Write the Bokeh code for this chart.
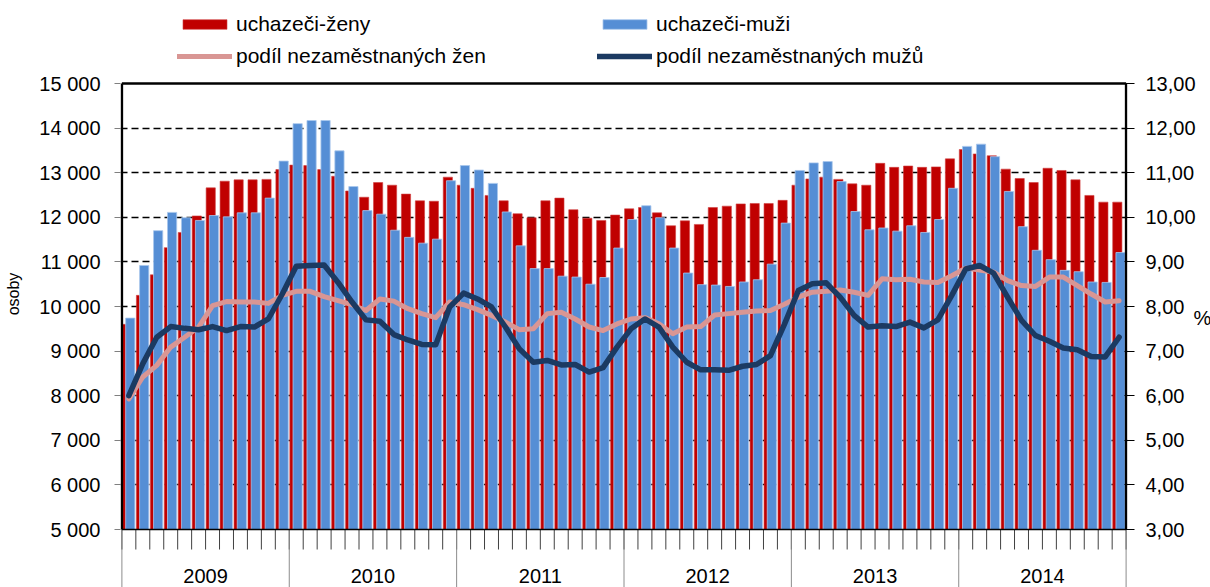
from bokeh.plotting import figure
from bokeh.models import (Range1d, LinearAxis, FixedTicker, Legend, LegendItem,
                          ColumnDataSource)
from bokeh.core.properties import value
from bokeh.embed import file_html
from bokeh.resources import INLINE

years = ["2009", "2010", "2011", "2012", "2013", "2014"]

women = [9600, 10250, 10710, 11320, 11660, 12030, 12660, 12810, 12840, 12840, 12850, 13070,
         13170, 13160, 13070, 12920, 12590, 12450, 12780, 12720, 12520, 12370, 12360, 12900,
         12720, 12650, 12490, 12370, 12080, 11990, 12370, 12430, 12170, 11980, 11930, 12050,
         12190, 12220, 12100, 11810, 11920, 11840, 12220, 12250, 12300, 12310, 12310, 12380,
         12720, 12860, 12900, 12850, 12750, 12720, 13210, 13120, 13150, 13120, 13130, 13310,
         13520, 13420, 13380, 13080, 12870, 12780, 13100, 13050, 12840, 12490, 12340, 12340]

men = [9740, 10920, 11700, 12110, 11990, 11930, 12040, 12010, 12100, 12100, 12430, 13260,
       14100, 14170, 14170, 13490, 12690, 12150, 12070, 11710, 11550, 11420, 11510, 12820,
       13160, 13060, 12760, 12120, 11360, 10850, 10850, 10680, 10660, 10500, 10650, 11310,
       11950, 12260, 11990, 11310, 10750, 10490, 10480, 10450, 10550, 10600, 10950, 11870,
       13050, 13220, 13250, 12800, 12130, 11720, 11760, 11690, 11810, 11660, 11950, 12650,
       13590, 13640, 13360, 12580, 11790, 11260, 11050, 10810, 10780, 10550, 10540, 11210]

pct_women = [5.93, 6.42, 6.68, 7.09, 7.31, 7.54, 8.02, 8.11, 8.10, 8.10, 8.07, 8.25,
             8.34, 8.34, 8.22, 8.13, 8.04, 7.91, 8.17, 8.12, 7.95, 7.84, 7.75, 8.10,
             8.04, 7.93, 7.80, 7.65, 7.48, 7.50, 7.84, 7.87, 7.72, 7.54, 7.46, 7.61,
             7.72, 7.75, 7.61, 7.39, 7.54, 7.55, 7.81, 7.84, 7.87, 7.90, 7.91, 8.05,
             8.21, 8.32, 8.34, 8.37, 8.32, 8.25, 8.62, 8.60, 8.61, 8.55, 8.54, 8.69,
             8.86, 8.82, 8.77, 8.58, 8.47, 8.45, 8.66, 8.66, 8.47, 8.28, 8.10, 8.13]

pct_men = [6.00, 6.72, 7.31, 7.55, 7.51, 7.48, 7.55, 7.46, 7.55, 7.54, 7.72, 8.28,
           8.90, 8.92, 8.93, 8.54, 8.10, 7.70, 7.67, 7.37, 7.25, 7.15, 7.14, 7.99,
           8.30, 8.17, 7.99, 7.54, 7.05, 6.75, 6.79, 6.69, 6.70, 6.53, 6.63, 7.09,
           7.50, 7.72, 7.54, 7.09, 6.75, 6.58, 6.58, 6.57, 6.66, 6.70, 6.90, 7.60,
           8.36, 8.51, 8.53, 8.21, 7.80, 7.54, 7.57, 7.55, 7.65, 7.52, 7.70, 8.25,
           8.84, 8.92, 8.75, 8.21, 7.69, 7.35, 7.22, 7.07, 7.03, 6.88, 6.87, 7.31]

left_ticks = list(range(5000, 15001, 1000))
right_ticks = list(range(3, 14))

FONT = "Liberation Sans"
RED = "#C00000"
BLUE = "#558ED5"
PINK = "#D99694"
DARK = "#1B3A62"

n = len(women)
idx = list(range(n))
Y_LO, Y_HI = 5000, 15000
P_LO, P_HI = 3, 13

# ---- layout (pixels) ----
W, H = 1210, 587
BOX_TOP, BOX_BOTTOM = 83, 529          # plot box top/bottom on the page
FRAME_LEFT = 120
FRAME_W = 1007
X_PAD = 0.1
ppu = (BOX_BOTTOM - BOX_TOP) / (Y_HI - Y_LO)      # pixels per person
y_min = Y_LO - (H - BOX_BOTTOM) / ppu
y_max = Y_HI + BOX_TOP / ppu
scale = (P_HI - P_LO) / (Y_HI - Y_LO)
p_min = P_LO + (y_min - Y_LO) * scale
p_max = P_LO + (y_max - Y_LO) * scale

src = ColumnDataSource(dict(
    xr=[i + 0.37 for i in idx],
    xb=[i + 0.60 for i in idx],
    xc=[i + 0.5 for i in idx],
    women=women, men=men, pw=pct_women, pm=pct_men,
))

p = figure(frame_width=FRAME_W, frame_height=H, title=None,
           x_range=Range1d(-X_PAD, n + X_PAD), y_range=Range1d(y_min, y_max),
           output_backend="svg", toolbar_location=None, x_axis_location=None,
           min_border_left=FRAME_LEFT, min_border_right=W - FRAME_LEFT - FRAME_W,
           min_border_top=0, min_border_bottom=0)
p.extra_y_ranges = {"pct": Range1d(p_min, p_max)}
p.outline_line_color = None
p.background_fill_color = "white"
p.border_fill_color = "white"

# grid
p.xgrid.visible = False
p.ygrid.ticker = FixedTicker(ticks=left_ticks[1:-1])
p.ygrid.grid_line_color = "black"
p.ygrid.grid_line_width = 1.3
p.ygrid.grid_line_dash = "7 4"

# left axis
ya = p.yaxis[0]
ya.ticker = FixedTicker(ticks=left_ticks)
ya.major_label_overrides = {t: f"{t // 1000} 000" for t in left_ticks}
ya.major_label_text_font = FONT
ya.major_label_text_font_size = "20px"
ya.major_label_text_color = "black"
ya.major_label_standoff = 14
ya.major_tick_out = 6
ya.major_tick_in = 0
ya.major_tick_line_color = "#808080"
ya.minor_tick_line_color = None
ya.axis_line_color = None
ya.axis_label = "osoby"
ya.axis_label_text_font = FONT
ya.axis_label_text_font_size = "16px"
ya.axis_label_text_font_style = "normal"
ya.axis_label_text_color = "black"
ya.axis_label_standoff = 14

# right axis
ra = LinearAxis(y_range_name="pct", ticker=FixedTicker(ticks=right_ticks))
ra.major_label_overrides = {t: f"{t},00" for t in right_ticks}
ra.major_label_text_font = FONT
ra.major_label_text_font_size = "20px"
ra.major_label_text_color = "black"
ra.major_label_standoff = 11
ra.major_tick_out = 7
ra.major_tick_in = 3
ra.major_tick_line_color = "black"
ra.minor_tick_line_color = None
ra.axis_line_color = None
p.add_layout(ra, "right")

# "%" unit as a second right axis with a single label
pa = LinearAxis(y_range_name="pct", ticker=FixedTicker(ticks=[7.75]))
pa.major_label_overrides = {7.75: "%"}
pa.major_label_text_font = FONT
pa.major_label_text_font_size = "20px"
pa.major_label_text_color = "black"
pa.major_label_standoff = -11
pa.major_tick_line_color = None
pa.minor_tick_line_color = None
pa.axis_line_color = None
p.add_layout(pa, "right")

# category axis decorations (month ticks, year separators)
tick_len = 20 / ppu
p.segment(x0=list(range(n + 1)), y0=[Y_LO] * (n + 1), x1=list(range(n + 1)),
          y1=[Y_LO - tick_len] * (n + 1), line_color="#404040", line_width=1)
yb = list(range(0, n + 1, 12))
p.segment(x0=yb, y0=[Y_LO] * len(yb), x1=yb, y1=[y_min] * len(yb),
          line_color="#8C8C8C", line_width=1)

# bars
r_red = p.vbar(x="xr", width=0.66, top="women", bottom=Y_LO, source=src,
               fill_color=RED, line_color="#D04040", line_width=0.6)
r_blue = p.vbar(x="xb", width=0.66, top="men", bottom=Y_LO, source=src,
                fill_color=BLUE, line_color="#A8C6EC", line_width=0.8)

# lines
r_pink = p.line(x="xc", y="pw", source=src, y_range_name="pct",
                line_color=PINK, line_width=5, line_join="round", line_cap="round")
r_dark = p.line(x="xc", y="pm", source=src, y_range_name="pct",
                line_color=DARK, line_width=5.5, line_join="round", line_cap="round")

# plot box border (top, left, right, bottom axis line)
p.segment(x0=[0, 0, n], y0=[Y_HI, Y_LO, Y_LO], x1=[n, 0, n], y1=[Y_HI, Y_HI, Y_HI],
          line_color="black", line_width=2.5)
p.segment(x0=[0], y0=[Y_LO], x1=[n], y1=[Y_LO], line_color="black", line_width=1.5)

# year labels
p.text(x=[6 + 12 * i for i in range(len(years))], y=[Y_LO - (575 - BOX_BOTTOM) / ppu] * len(years),
       text=years, text_align="center", text_baseline="middle",
       text_font=value(FONT), text_font_size="20px", text_color="black")

legend = Legend(items=[
    LegendItem(label="uchazeči-ženy", renderers=[r_red]),
    LegendItem(label="uchazeči-muži", renderers=[r_blue]),
    LegendItem(label="podíl nezaměstnaných žen", renderers=[r_pink]),
    LegendItem(label="podíl nezaměstnaných mužů", renderers=[r_dark]),
], orientation="horizontal", ncols=2, location=(177 - FRAME_LEFT, H - 68),
    glyph_width=55, glyph_height=12, label_standoff=4, label_width=353,
    label_height=24, spacing=8, padding=0, margin=0,
    border_line_color=None, background_fill_alpha=0,
    label_text_font=FONT, label_text_font_size="21px", label_text_color="black")
p.add_layout(legend)

open("out.html", "w").write(file_html(p, INLINE))
